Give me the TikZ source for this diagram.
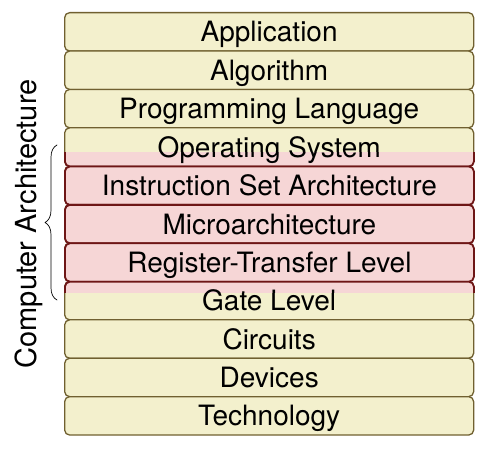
\documentclass[tikz,border=0pt]{standalone}
\usepackage{fontspec}
\setmainfont{TeX Gyre Heros}
\usetikzlibrary{decorations.pathreplacing}
\definecolor{layerfill}{RGB}{243,240,205}
\definecolor{layerdraw}{RGB}{112,96,48}
\definecolor{archfill}{RGB}{246,214,214}
\definecolor{archdraw}{RGB}{110,22,22}

\begin{document}
\begin{tikzpicture}[x=1pt,y=1pt,line join=round,line cap=round,font=\fontsize{28}{32}\selectfont,
	layer/.style={draw=layerdraw,fill=layerfill,line width=1.3pt,rounded corners=5pt,
		minimum width=409pt,minimum height=38.4pt,inner sep=0pt,text height=20pt,text depth=0pt,
		anchor=north west},
	archlayer/.style={layer,draw=archdraw,line width=1.8pt,fill=archfill}]
	\useasboundingbox (0,0) rectangle (486,452);
	% the whole stack
	\foreach \name/\txt [count=\i from 0] in {app/Application,alg/Algorithm,
		pl/Programming Language,os/Operating System,isa/Instruction Set Architecture,
		uarch/Microarchitecture,rtl/Register-Transfer Level,gate/Gate Level,
		circ/Circuits,dev/Devices,tech/Technology}
		\node[layer] (\name) at (64,{440-38.4*\i}) {\txt};
	% computer architecture band
	\begin{scope}
		\clip (0,159) rectangle (486,299);
		\foreach \name/\txt [count=\i from 3] in {os/Operating System,
			isa/Instruction Set Architecture,uarch/Microarchitecture,
			rtl/Register-Transfer Level,gate/Gate Level}
			\node[archlayer] (\name-ca) at (64,{440-38.4*\i}) {\txt};
	\end{scope}
	\coordinate (bl) at (57,152);
	\coordinate (bu) at (57,307);
	\draw[decorate,decoration={brace,amplitude=12pt},line width=0.7pt] (bl)--(bu);
	\node[rotate=90,anchor=south,inner sep=1pt,font=\fontsize{29}{32}\selectfont] (ca) at (44,228) {Computer Architecture};

\end{tikzpicture}
\end{document}
